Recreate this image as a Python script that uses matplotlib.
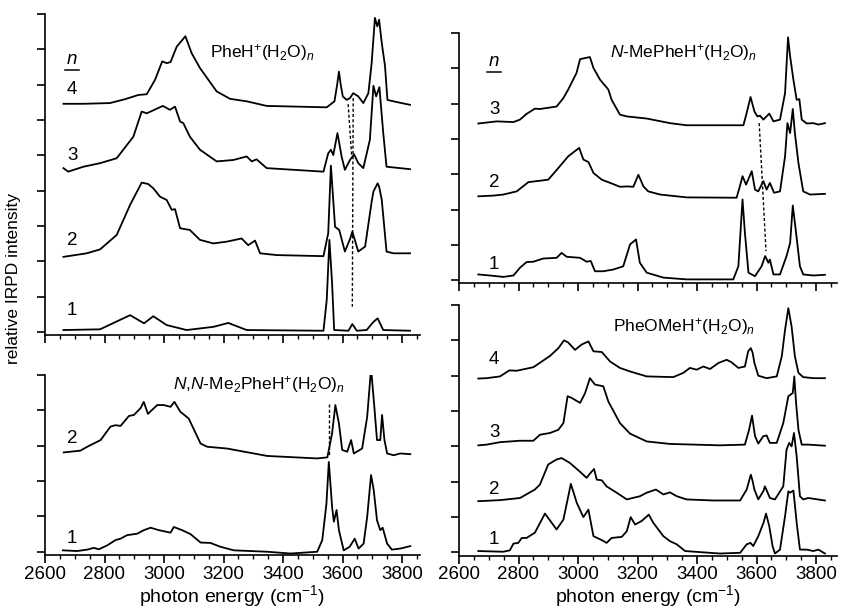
import numpy as np
import matplotlib
matplotlib.use('Agg')
import matplotlib.pyplot as plt
from matplotlib.ticker import MultipleLocator, NullFormatter

plt.rcParams['font.family'] = ['Liberation Sans', 'DejaVu Sans']
plt.rcParams['mathtext.fontset'] = 'custom'
plt.rcParams['mathtext.rm'] = 'Liberation Sans'
plt.rcParams['mathtext.it'] = 'Liberation Sans:italic'

# spectra: (wavenumber cm-1, stacked intensity)
phe_1 = [(2662, 0.06), (2785, 0.08), (2886, 0.48), (2933, 0.25), (2964, 0.45), (3009, 0.20),
         (3076, 0.06), (3166, 0.15), (3216, 0.26), (3278, 0.06), (3536, 0.04), (3547, 0.91),
         (3556, 2.61), (3565, 1.38), (3572, 0.06), (3620, 0.04), (3633, 0.23), (3648, 0.04),
         (3681, 0.06), (3704, 0.29), (3718, 0.39), (3737, 0.06), (3827, 0.04)]
phe_2 = [(2662, 2.13), (2740, 2.23), (2785, 2.34), (2841, 2.75), (2886, 3.60), (2925, 4.23),
         (2947, 4.19), (2964, 4.07), (2987, 3.83), (3009, 3.74), (3026, 3.46), (3037, 3.48),
         (3054, 2.94), (3087, 2.89), (3121, 2.61), (3166, 2.51), (3211, 2.56), (3261, 2.65),
         (3283, 2.46), (3306, 2.59), (3323, 2.23), (3379, 2.18), (3536, 2.15), (3552, 2.80),
         (3561, 4.71), (3575, 2.98), (3589, 2.89), (3608, 2.28), (3626, 2.65), (3633, 2.84),
         (3640, 2.65), (3653, 2.28), (3676, 2.42), (3698, 3.69), (3704, 3.98), (3718, 4.21),
         (3723, 4.12), (3732, 3.74), (3748, 2.28), (3771, 2.23), (3827, 2.23)]
phe_3 = [(2662, 4.64), (2678, 4.54), (2729, 4.68), (2785, 4.78), (2841, 4.92), (2897, 5.53),
         (2925, 6.24), (2942, 6.19), (2996, 6.40), (3020, 6.29), (3037, 6.38), (3054, 5.96),
         (3065, 5.91), (3087, 5.53), (3121, 5.16), (3177, 4.83), (3233, 4.87), (3278, 4.97),
         (3295, 4.83), (3311, 4.89), (3345, 4.64), (3536, 4.54), (3552, 5.06), (3561, 5.16),
         (3569, 5.01), (3583, 5.63), (3597, 4.97), (3608, 4.59), (3625, 4.87), (3639, 5.03),
         (3653, 4.78), (3670, 4.64), (3692, 5.44), (3704, 6.97), (3713, 6.67), (3724, 6.93),
         (3737, 5.63), (3748, 4.68), (3827, 4.61)]
phe_4 = [(2662, 6.46), (2729, 6.46), (2818, 6.48), (2869, 6.59), (2914, 6.71), (2942, 6.73),
         (2970, 7.14), (2994, 7.66), (3009, 7.61), (3022, 7.64), (3043, 8.08), (3072, 8.37),
         (3093, 7.89), (3121, 7.47), (3177, 6.81), (3222, 6.60), (3278, 6.53), (3345, 6.40),
         (3547, 6.36), (3573, 6.53), (3582, 7.0), (3588, 7.37), (3594, 7.0), (3601, 6.67),
         (3614, 6.57), (3625, 6.62), (3636, 6.76), (3653, 6.67), (3670, 6.48), (3687, 6.76),
         (3698, 7.61), (3709, 8.89), (3717, 8.65), (3723, 8.84), (3732, 8.18), (3743, 7.52),
         (3751, 6.57), (3771, 6.53), (3827, 6.43)]

mephe_1 = [(2665, 0.17), (2704, 0.14), (2749, 0.10), (2783, 0.14), (2805, 0.36), (2827, 0.52),
           (2850, 0.53), (2883, 0.62), (2928, 0.64), (2945, 0.78), (2962, 0.67), (3007, 0.64),
           (3029, 0.53), (3043, 0.55), (3057, 0.26), (3085, 0.26), (3119, 0.31), (3152, 0.40),
           (3175, 1.02), (3195, 1.16), (3208, 0.50), (3231, 0.22), (3287, 0.08), (3365, 0.03),
           (3522, 0.03), (3539, 0.40), (3553, 2.29), (3561, 1.35), (3573, 0.22), (3595, 0.12),
           (3617, 0.40), (3629, 0.69), (3640, 0.50), (3645, 0.59), (3657, 0.17), (3679, 0.17),
           (3701, 0.69), (3713, 1.06), (3722, 2.12), (3733, 1.35), (3746, 0.40), (3757, 0.17),
           (3791, 0.14), (3830, 0.16)]
mephe_2 = [(2665, 2.38), (2715, 2.40), (2749, 2.43), (2794, 2.52), (2833, 2.78), (2861, 2.81),
           (2900, 2.85), (2939, 3.23), (2967, 3.51), (3004, 3.75), (3018, 3.42), (3035, 3.35),
           (3052, 3.04), (3080, 2.85), (3108, 2.76), (3141, 2.65), (3164, 2.66), (3186, 2.65),
           (3203, 2.99), (3220, 2.66), (3236, 2.52), (3276, 2.43), (3365, 2.35), (3533, 2.34),
           (3544, 2.66), (3553, 2.95), (3565, 2.71), (3584, 3.09), (3595, 2.57), (3606, 2.52),
           (3623, 2.81), (3634, 2.57), (3645, 2.76), (3659, 2.48), (3679, 2.52), (3696, 3.51),
           (3704, 4.45), (3713, 4.17), (3722, 4.85), (3729, 4.17), (3741, 3.32), (3757, 2.52),
           (3780, 2.43), (3830, 2.45)]
mephe_3 = [(2665, 4.44), (2727, 4.50), (2783, 4.48), (2805, 4.55), (2827, 4.71), (2855, 4.86),
           (2872, 4.85), (2928, 4.92), (2951, 5.16), (2967, 5.40), (2995, 5.87), (3007, 6.26),
           (3040, 6.32), (3052, 6.01), (3074, 5.68), (3102, 5.40), (3113, 5.11), (3141, 4.69),
           (3164, 4.64), (3231, 4.58), (3309, 4.45), (3365, 4.39), (3556, 4.39), (3567, 4.74),
           (3580, 5.19), (3593, 4.78), (3603, 4.64), (3612, 4.66), (3623, 4.55), (3643, 4.72),
           (3657, 4.50), (3679, 4.55), (3696, 5.30), (3706, 6.88), (3713, 6.34), (3724, 5.68),
           (3735, 5.11), (3744, 5.13), (3752, 4.55), (3769, 4.44), (3791, 4.45), (3808, 4.41),
           (3830, 4.45)]

me2_1 = [(2660, 0.04), (2708, 0.02), (2742, 0.06), (2764, 0.11), (2781, 0.07), (2809, 0.18),
         (2837, 0.33), (2854, 0.37), (2876, 0.47), (2910, 0.51), (2932, 0.61), (2955, 0.68),
         (2983, 0.61), (3022, 0.54), (3033, 0.70), (3061, 0.61), (3089, 0.50), (3123, 0.26),
         (3156, 0.25), (3190, 0.14), (3235, 0.04), (3347, 0.00), (3425, -0.05), (3515, 0.00),
         (3532, 0.33), (3546, 1.36), (3554, 2.54), (3565, 1.27), (3571, 0.85), (3580, 1.18),
         (3588, 0.61), (3604, 0.04), (3624, 0.14), (3641, 0.37), (3654, 0.09), (3671, 0.23),
         (3683, 0.99), (3696, 2.17), (3705, 1.74), (3716, 0.89), (3727, 0.61), (3735, 0.68),
         (3750, 0.23), (3766, 0.06), (3794, 0.09), (3828, 0.16)]
me2_2 = [(2663, 2.81), (2719, 2.86), (2742, 2.97), (2787, 3.16), (2820, 3.54), (2837, 3.58),
         (2854, 3.56), (2882, 3.84), (2899, 3.87), (2921, 4.06), (2932, 4.24), (2946, 3.90),
         (2977, 4.15), (2999, 4.15), (3022, 4.10), (3035, 4.24), (3055, 3.96), (3083, 3.77),
         (3123, 3.06), (3145, 2.97), (3212, 2.92), (3347, 2.71), (3515, 2.64), (3549, 2.67),
         (3554, 2.88), (3565, 3.35), (3576, 4.15), (3588, 3.63), (3599, 2.88), (3616, 2.83),
         (3629, 3.16), (3638, 2.78), (3666, 2.92), (3683, 3.82), (3696, 5.19), (3707, 4.10),
         (3716, 3.16), (3727, 3.16), (3733, 3.87), (3741, 3.16), (3750, 2.78), (3772, 2.73),
         (3794, 2.78), (3828, 2.76)]

ome_1 = [(2665, 0.04), (2749, 0.02), (2771, 0.06), (2783, 0.25), (2799, 0.27), (2811, 0.41),
         (2827, 0.41), (2855, 0.56), (2889, 1.10), (2928, 0.65), (2951, 0.93), (2976, 1.94),
         (2996, 1.40), (3018, 1.00), (3035, 1.21), (3052, 0.46), (3080, 0.35), (3096, 0.27),
         (3113, 0.41), (3147, 0.44), (3164, 0.60), (3177, 1.00), (3192, 0.79), (3214, 0.89),
         (3238, 1.07), (3253, 0.84), (3287, 0.46), (3309, 0.32), (3332, 0.23), (3360, 0.04),
         (3477, -0.03), (3545, -0.01), (3567, 0.23), (3580, 0.27), (3589, 0.18), (3606, 0.46),
         (3624, 0.85), (3632, 1.10), (3643, 0.74), (3654, 0.18), (3662, -0.03), (3679, 0.08),
         (3696, 1.03), (3707, 1.73), (3713, 1.69), (3724, 1.75), (3729, 1.35), (3735, 0.84),
         (3746, 0.08), (3769, 0.08), (3791, 0.04), (3808, 0.08), (3830, -0.03)]
ome_2 = [(2665, 1.45), (2738, 1.48), (2805, 1.54), (2855, 1.78), (2872, 1.92), (2900, 2.49),
         (2928, 2.63), (2945, 2.67), (2973, 2.53), (3007, 2.28), (3029, 2.11), (3040, 2.23),
         (3054, 2.36), (3063, 2.06), (3080, 2.04), (3096, 1.87), (3130, 1.69), (3164, 1.50),
         (3208, 1.59), (3231, 1.69), (3262, 1.78), (3287, 1.64), (3309, 1.70), (3332, 1.59),
         (3365, 1.50), (3455, 1.47), (3545, 1.47), (3567, 1.78), (3576, 2.05), (3581, 2.20),
         (3586, 2.05), (3593, 1.78), (3606, 1.50), (3624, 1.75), (3628, 1.87), (3633, 1.78),
         (3645, 1.54), (3662, 1.50), (3690, 1.87), (3701, 2.91), (3710, 3.10), (3718, 3.00),
         (3726, 3.38), (3735, 2.72), (3746, 1.59), (3757, 1.50), (3774, 1.54), (3830, 1.47)]
ome_3 = [(2665, 3.03), (2693, 3.05), (2738, 3.12), (2805, 3.16), (2850, 3.16), (2872, 3.33),
         (2906, 3.38), (2934, 3.47), (2951, 3.66), (2965, 4.42), (2979, 4.37), (3007, 4.23),
         (3024, 4.51), (3040, 4.93), (3057, 4.75), (3085, 4.70), (3102, 4.27), (3141, 3.66),
         (3175, 3.36), (3231, 3.14), (3309, 3.07), (3477, 3.03), (3561, 3.05), (3575, 3.47),
         (3585, 3.87), (3595, 3.29), (3606, 3.08), (3623, 3.29), (3634, 3.31), (3645, 3.10),
         (3668, 3.10), (3690, 3.66), (3707, 4.42), (3722, 4.51), (3727, 4.98), (3733, 4.23),
         (3741, 3.47), (3752, 3.05), (3774, 3.05), (3830, 3.02)]
ome_4 = [(2665, 4.92), (2693, 4.93), (2738, 4.98), (2769, 5.15), (2794, 5.14), (2850, 5.24),
         (2878, 5.40), (2906, 5.56), (2934, 5.78), (2953, 6.00), (2967, 5.94), (2990, 5.73),
         (3012, 5.88), (3035, 5.97), (3052, 5.69), (3080, 5.67), (3108, 5.40), (3141, 5.22),
         (3175, 5.12), (3231, 4.98), (3320, 4.96), (3354, 5.08), (3376, 5.22), (3399, 5.17),
         (3421, 5.26), (3444, 5.19), (3472, 5.36), (3500, 5.45), (3516, 5.38), (3539, 5.22),
         (3561, 5.26), (3572, 5.69), (3581, 5.78), (3587, 5.65), (3593, 5.36), (3606, 5.00),
         (3634, 4.93), (3668, 4.98), (3685, 5.55), (3696, 6.30), (3707, 6.91), (3718, 6.39),
         (3729, 5.55), (3741, 5.08), (3757, 4.96), (3791, 4.93), (3830, 4.93)]

# dashed guide lines (x0, y0, x1, y1)
phe_dash = [(3619, 6.45, 3631, 4.97), (3636, 6.62, 3633, 0.72)]
mephe_dash = [(3609, 4.45, 3632, 0.83)]
me2_dash = [(3556, 4.18, 3556, 2.73)]
ome_dash = []

phe_n = ['1', '2', '3', '4']
phe_n_y = [0.62, 2.6, 5.01, 6.86]
mephe_n = ['1', '2', '3']
mephe_n_y = [0.45, 2.77, 4.83]
me2_n = ['1', '2']
me2_n_y = [0.38, 3.2]
ome_n = ['1', '2', '3', '4']
ome_n_y = [0.37, 1.78, 3.39, 5.45]

W, H = 842, 608
fig = plt.figure(figsize=(W / 100, H / 100), dpi=100)

FS = 12.5
TFS = 13.5


def make_ax(left_px, top_px, xmax, ylim, bottom_labels):
    sx = 0.2975  # px per cm-1
    sy = 35.35   # px per unit
    w = (xmax - 2600) * sx
    h = (ylim[1] - ylim[0]) * sy
    ax = fig.add_axes([left_px / W, 1 - (top_px + h) / H, w / W, h / H])
    ax.set_xlim(2600, xmax)
    ax.set_ylim(*ylim)
    for s in ['top', 'right']:
        ax.spines[s].set_visible(False)
    for s in ['left', 'bottom']:
        ax.spines[s].set_linewidth(1.2)
    ax.xaxis.set_major_locator(MultipleLocator(200))
    ax.xaxis.set_minor_locator(MultipleLocator(50))
    ax.yaxis.set_major_locator(MultipleLocator(1))
    ax.yaxis.set_major_formatter(NullFormatter())
    ax.tick_params(axis='both', which='major', direction='out', length=5.5, width=1.2,
                   labelsize=TFS, pad=2)
    ax.tick_params(axis='x', which='minor', direction='out', length=3, width=1.0)
    if bottom_labels:
        ax.set_xlabel('photon energy (cm$^{-1}$)', fontsize=14, labelpad=0)
    else:
        ax.xaxis.set_major_formatter(NullFormatter())
    return ax


def draw(ax, traces, dashes, names, name_y, name_x, title, title_xy, n_y=None):
    for tr in traces:
        xs = [p[0] for p in tr]
        ys = [p[1] for p in tr]
        ax.plot(xs, ys, color='black', lw=1.3, solid_joinstyle='round')
    for d in dashes:
        ax.plot([d[0], d[2]], [d[1], d[3]], color='black', lw=1.0, ls=(0, (2.2, 1.6)))
    for lab, yy in zip(names, name_y):
        ax.text(name_x, yy, lab, fontsize=TFS, ha='center', va='center')
    if n_y is not None:
        ax.text(name_x, n_y, '$n$', fontsize=TFS, ha='center', va='center')
        ax.plot([name_x - 24, name_x + 24], [n_y - 0.3, n_y - 0.3], color='black', lw=1.1)
    ax.text(title_xy[0], title_xy[1], title, fontsize=FS, ha='left', va='center')


ax1 = make_ax(45, 14, 3860, (-0.08, 9.0), False)
draw(ax1, [phe_1, phe_2, phe_3, phe_4], phe_dash, phe_n, phe_n_y, 2691,
     'PheH$^{+}$(H$_2$O)$_n$', (3155, 7.9), n_y=7.72)

ax2 = make_ax(459, 33, 3870, (-0.08, 7.0), False)
draw(ax2, [mephe_1, mephe_2, mephe_3], mephe_dash, mephe_n, mephe_n_y, 2718,
     '$N$-MePheH$^{+}$(H$_2$O)$_n$', (3108, 6.44), n_y=6.2)

ax3 = make_ax(45, 375, 3860, (-0.1, 5.0), True)
draw(ax3, [me2_1, me2_2], me2_dash, me2_n, me2_n_y, 2691,
     '$N$,$N$-Me$_2$PheH$^{+}$(H$_2$O)$_n$', (3029, 4.72))

ax4 = make_ax(459, 305, 3870, (-0.1, 7.0), True)
draw(ax4, [ome_1, ome_2, ome_3, ome_4], ome_dash, ome_n, ome_n_y, 2718,
     'PheOMeH$^{+}$(H$_2$O)$_n$', (3117, 6.38))

fig.text(14 / W, 1 - 278 / H, 'relative IRPD intensity', rotation=90, fontsize=FS,
         ha='center', va='center')

fig.savefig('out.png', dpi=100)
